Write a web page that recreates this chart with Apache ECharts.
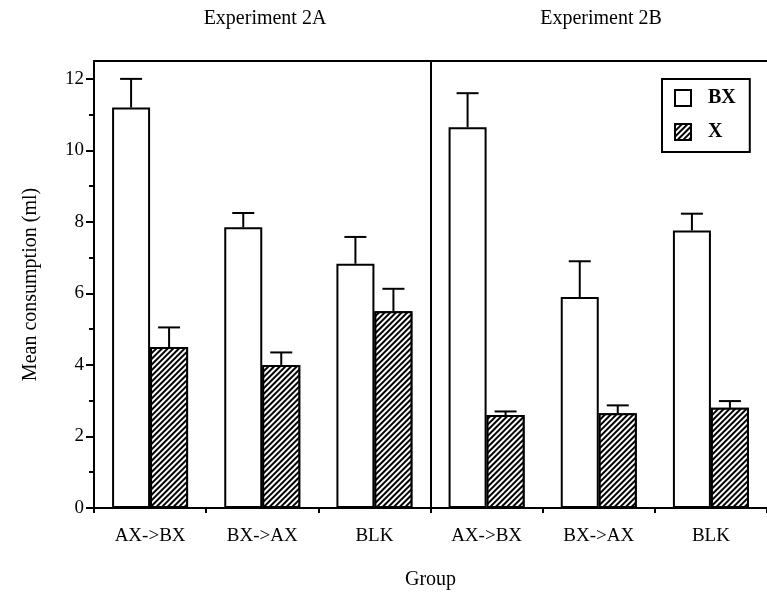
<!DOCTYPE html>
<html>
<head>
<meta charset="utf-8">
<script src="https://cdn.jsdelivr.net/npm/echarts@6/dist/echarts.min.js"></script>
<style>
  html, body { margin: 0; padding: 0; background: #fff; }
  #chart { width: 767px; height: 595px; }
</style>
</head>
<body>
<div id="chart"></div>
<script>
// Group labels along the bottom axis (Experiment 2A: first three, 2B: last three)
const groups = ['AX->BX', 'BX->AX', 'BLK', 'AX->BX', 'BX->AX', 'BLK'];
const panelTitles = ['Experiment 2A', 'Experiment 2B'];
// Number of groups in each experiment panel; the divider sits after the first panel
const panelSizes = [3, 3];

// Mean consumption (ml) and upper error (SEM) per group
const bxMeans = [11.2, 7.85, 6.83, 10.65, 5.9, 7.76];
const bxErrors = [0.8, 0.4, 0.75, 0.95, 1.0, 0.47];
const xMeans = [4.5, 4.0, 5.5, 2.6, 2.65, 2.8];
const xErrors = [0.55, 0.35, 0.63, 0.1, 0.22, 0.19];

const yLabelValues = [0, 2, 4, 6, 8, 10, 12];

const SERIF = '"Liberation Serif", "DejaVu Serif", serif';
const BAR_W = 38;

const hatch = {
  symbol: 'rect',
  symbolSize: 1,
  color: '#000',
  backgroundColor: '#fff',
  dashArrayX: [1, 0],
  dashArrayY: [2, 2],
  rotation: -Math.PI / 4
};

// Upward-only error bar with a cap, offset to sit over its own bar
function errorBar(means, errors, side) {
  return function (params, api) {
    const i = api.value(0);
    const base = api.coord([i, means[i]]);
    const tip = api.coord([i, means[i] + errors[i]]);
    const x = base[0] + side * BAR_W / 2;
    const style = { stroke: '#000', lineWidth: 2 };
    return {
      type: 'group',
      children: [
        { type: 'line', shape: { x1: x, y1: base[1], x2: x, y2: tip[1] }, style },
        { type: 'line', shape: { x1: x - 11, y1: tip[1], x2: x + 11, y2: tip[1] }, style }
      ]
    };
  };
}

const chart = echarts.init(document.getElementById('chart'), null, { renderer: 'canvas' });

chart.setOption({
  animation: false,
  backgroundColor: '#fff',
  grid: { left: 94, top: 61, width: 678, height: 447 },
  graphic: [
    { type: 'text', x: 265, y: 9, style: { text: panelTitles[0], font: '20px ' + SERIF, fill: '#000', align: 'center' } },
    { type: 'text', x: 601, y: 9, style: { text: panelTitles[1], font: '20px ' + SERIF, fill: '#000', align: 'center' } }
  ],
  legend: {
    orient: 'vertical',
    left: 662,
    top: 79,
    padding: [9, 14, 10, 12],
    itemGap: 14,
    itemWidth: 16,
    itemHeight: 16,
    icon: 'rect',
    borderColor: '#000',
    borderWidth: 2,
    backgroundColor: '#fff',
    textStyle: { fontFamily: SERIF, fontSize: 20, fontWeight: 'bold', color: '#000', padding: [0, 0, 0, 12] },
    data: ['BX', 'X']
  },
  xAxis: [
    {
      type: 'category',
      data: groups,
      position: 'bottom',
      axisLine: { lineStyle: { color: '#000', width: 2 } },
      axisTick: { show: true, length: 5, lineStyle: { color: '#000', width: 2 } },
      axisLabel: { color: '#000', fontFamily: SERIF, fontSize: 19, margin: 19 },
      splitLine: { show: false },
      name: 'Group',
      nameLocation: 'middle',
      nameGap: 62,
      nameTextStyle: { color: '#000', fontFamily: SERIF, fontSize: 20 }
    },
    {
      type: 'category',
      data: groups,
      position: 'top',
      axisLine: { lineStyle: { color: '#000', width: 2 } },
      axisTick: { show: false },
      axisLabel: { show: false }
    },
    {
      // continuous companion of the group axis, used to place the panel divider
      type: 'value',
      min: 0,
      max: groups.length,
      show: false
    }
  ],
  yAxis: {
    type: 'value',
    min: 0,
    max: 12.5,
    interval: 2,
    axisLine: { show: true, lineStyle: { color: '#000', width: 2 } },
    axisTick: { show: true, length: 8, customValues: yLabelValues, lineStyle: { color: '#000', width: 2 } },
    minorTick: { show: true, splitNumber: 2, length: 5, lineStyle: { color: '#000', width: 2 } },
    axisLabel: { color: '#000', fontFamily: SERIF, fontSize: 19, margin: 10, customValues: yLabelValues },
    splitLine: { show: false },
    name: 'Mean consumption (ml)',
    nameLocation: 'middle',
    nameGap: 53,
    nameTextStyle: { color: '#000', fontFamily: SERIF, fontSize: 20 }
  },
  series: [
    {
      name: 'BX',
      type: 'bar',
      data: bxMeans,
      barWidth: BAR_W,
      barGap: '0%',
      itemStyle: { color: '#fff', borderColor: '#000', borderWidth: 2 }
    },
    {
      name: 'X',
      type: 'bar',
      data: xMeans,
      barWidth: BAR_W,
      barGap: '0%',
      itemStyle: { color: '#fff', borderColor: '#000', borderWidth: 2, decal: hatch }
    },
    {
      type: 'custom',
      data: groups.map((g, i) => [i]),
      renderItem: errorBar(bxMeans, bxErrors, -1),
      z: 5,
      silent: true
    },
    {
      type: 'custom',
      data: groups.map((g, i) => [i]),
      renderItem: errorBar(xMeans, xErrors, 1),
      z: 5,
      silent: true
    },
    {
      // vertical rule separating Experiment 2A from Experiment 2B
      type: 'line',
      xAxisIndex: 2,
      data: [],
      silent: true,
      markLine: {
        silent: true,
        symbol: 'none',
        label: { show: false },
        lineStyle: { color: '#000', width: 2, type: 'solid' },
        data: [{ xAxis: panelSizes[0] }]
      }
    }
  ]
});
</script>
</body>
</html>
